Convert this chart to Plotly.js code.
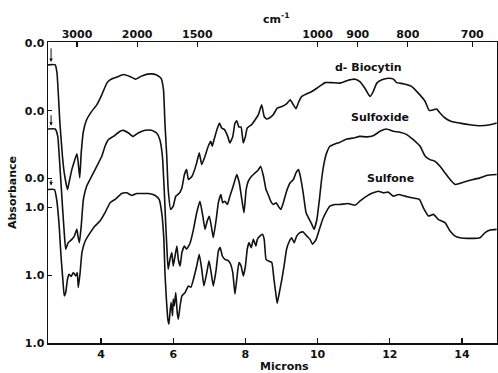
<!DOCTYPE html>
<html>
<head>
<meta charset="utf-8">
<script src="https://cdn.plot.ly/plotly-3.0.1.min.js"></script>
<style>html,body{margin:0;padding:0;background:#fff;}#chart{width:498px;height:373px;}</style>
</head>
<body>
<div id="chart"></div>
<script>
// Wavelength (microns) and absorbance for each spectrum
const biocytinX = [2.52,2.73,2.78,2.86,2.93,2.98,3.07,3.12,3.19,3.26,3.33,3.36,3.41,3.45,3.51,3.60,3.74,3.88,4.02,4.16,4.25,4.43,4.62,4.80,4.96,5.13,5.36,5.54,5.66,5.73,5.77,5.82,5.86,5.93,6.00,6.07,6.16,6.24,6.31,6.37,6.42,6.51,6.56,6.65,6.72,6.79,6.88,6.97,7.04,7.08,7.13,7.21,7.28,7.34,7.42,7.51,7.57,7.65,7.71,7.76,7.82,7.88,7.94,8.00,8.05,8.17,8.27,8.36,8.45,8.52,8.59,8.66,8.77,8.88,9.01,9.14,9.24,9.33,9.40,9.47,9.56,9.70,9.84,9.98,10.11,10.21,10.39,10.62,10.81,11.04,11.17,11.31,11.45,11.54,11.64,11.78,11.96,12.10,12.19,12.37,12.61,12.79,12.98,13.09,13.21,13.30,13.39,13.53,13.71,13.94,14.22,14.50,14.78,14.96];
const biocytinA = [0.133,0.133,0.184,0.487,0.689,0.790,0.891,0.841,0.770,0.719,0.673,0.713,0.820,0.668,0.538,0.467,0.416,0.376,0.315,0.244,0.224,0.208,0.192,0.204,0.220,0.200,0.188,0.194,0.214,0.285,0.487,0.689,0.891,1.012,0.992,0.932,0.915,0.881,0.800,0.770,0.830,0.814,0.790,0.729,0.668,0.739,0.689,0.628,0.598,0.628,0.588,0.527,0.487,0.517,0.527,0.568,0.608,0.568,0.487,0.473,0.511,0.511,0.608,0.568,0.517,0.497,0.467,0.436,0.376,0.447,0.462,0.456,0.436,0.396,0.386,0.370,0.345,0.376,0.400,0.362,0.325,0.309,0.295,0.275,0.255,0.241,0.241,0.244,0.229,0.220,0.235,0.275,0.325,0.295,0.244,0.224,0.214,0.220,0.241,0.248,0.265,0.305,0.356,0.410,0.406,0.402,0.426,0.456,0.477,0.487,0.497,0.503,0.497,0.487];

const sulfoxideX = [2.52,2.73,2.80,2.86,2.93,2.98,3.02,3.09,3.19,3.26,3.33,3.36,3.40,3.45,3.51,3.60,3.74,3.88,4.02,4.11,4.20,4.34,4.53,4.62,4.76,4.89,5.03,5.22,5.40,5.54,5.63,5.70,5.75,5.79,5.83,5.86,5.91,5.96,6.00,6.05,6.10,6.14,6.19,6.24,6.31,6.37,6.47,6.56,6.65,6.74,6.82,6.88,6.94,7.00,7.07,7.11,7.19,7.25,7.32,7.37,7.43,7.50,7.57,7.66,7.76,7.83,7.90,7.96,8.02,8.08,8.17,8.27,8.36,8.42,8.50,8.57,8.63,8.70,8.77,8.85,8.91,8.98,9.05,9.14,9.24,9.33,9.40,9.47,9.53,9.60,9.68,9.77,9.84,9.90,9.98,10.05,10.11,10.18,10.25,10.34,10.43,10.62,10.81,10.99,11.17,11.36,11.54,11.73,11.91,12.10,12.28,12.47,12.65,12.84,12.98,13.11,13.25,13.39,13.53,13.67,13.81,13.94,14.13,14.31,14.50,14.68,14.96];
const sulfoxideA = [0.111,0.111,0.156,0.338,0.580,0.741,0.842,0.802,0.782,0.762,0.721,0.762,0.802,0.701,0.539,0.459,0.398,0.338,0.277,0.216,0.176,0.156,0.125,0.119,0.135,0.156,0.135,0.119,0.119,0.135,0.176,0.277,0.479,0.681,0.862,0.964,0.903,0.862,0.944,0.883,0.822,0.903,0.944,0.862,0.822,0.842,0.802,0.721,0.620,0.550,0.641,0.721,0.671,0.641,0.721,0.772,0.661,0.559,0.509,0.559,0.550,0.570,0.519,0.459,0.388,0.438,0.539,0.620,0.479,0.428,0.398,0.378,0.358,0.338,0.398,0.479,0.509,0.550,0.570,0.559,0.580,0.600,0.559,0.489,0.438,0.418,0.378,0.358,0.408,0.499,0.620,0.661,0.691,0.721,0.661,0.539,0.418,0.317,0.256,0.216,0.206,0.191,0.172,0.166,0.156,0.159,0.152,0.125,0.111,0.125,0.131,0.145,0.176,0.216,0.277,0.297,0.307,0.338,0.378,0.418,0.448,0.442,0.428,0.418,0.408,0.394,0.388];

const sulfoneX = [2.52,2.71,2.77,2.84,2.89,2.94,2.98,3.02,3.07,3.11,3.17,3.23,3.30,3.34,3.37,3.42,3.47,3.56,3.70,3.83,3.97,4.11,4.25,4.39,4.57,4.71,4.85,4.99,5.13,5.31,5.50,5.61,5.68,5.74,5.77,5.81,5.85,5.88,5.91,5.94,5.98,6.00,6.03,6.07,6.11,6.14,6.19,6.24,6.33,6.42,6.49,6.56,6.65,6.72,6.79,6.85,6.93,6.99,7.05,7.11,7.19,7.25,7.30,7.36,7.43,7.53,7.59,7.65,7.71,7.76,7.82,7.88,7.94,8.00,8.05,8.10,8.16,8.22,8.29,8.33,8.40,8.47,8.52,8.57,8.63,8.73,8.79,8.85,8.88,8.94,9.01,9.07,9.14,9.22,9.28,9.35,9.42,9.51,9.60,9.70,9.79,9.86,9.96,10.05,10.14,10.25,10.34,10.48,10.62,10.84,11.04,11.17,11.36,11.54,11.68,11.82,11.96,12.10,12.24,12.42,12.61,12.82,12.93,13.07,13.21,13.34,13.53,13.67,13.81,13.94,14.17,14.50,14.64,14.78,14.96];
const sulfoneA = [0.067,0.067,0.127,0.289,0.471,0.612,0.713,0.693,0.612,0.582,0.596,0.572,0.592,0.572,0.662,0.572,0.450,0.380,0.329,0.289,0.259,0.208,0.147,0.127,0.091,0.087,0.103,0.091,0.091,0.091,0.103,0.127,0.208,0.370,0.572,0.733,0.855,0.885,0.814,0.753,0.835,0.733,0.774,0.693,0.814,0.855,0.774,0.713,0.693,0.653,0.661,0.612,0.532,0.461,0.552,0.653,0.572,0.501,0.572,0.653,0.552,0.441,0.420,0.471,0.491,0.501,0.521,0.572,0.703,0.612,0.511,0.532,0.592,0.532,0.430,0.390,0.420,0.370,0.410,0.370,0.350,0.339,0.370,0.491,0.501,0.511,0.612,0.713,0.758,0.693,0.612,0.532,0.430,0.380,0.360,0.390,0.350,0.329,0.325,0.350,0.370,0.400,0.370,0.309,0.248,0.198,0.168,0.158,0.158,0.152,0.162,0.138,0.107,0.087,0.077,0.087,0.083,0.107,0.097,0.107,0.117,0.127,0.178,0.228,0.218,0.248,0.268,0.319,0.350,0.360,0.364,0.360,0.329,0.313,0.309];

const seriesNames = ["d- Biocytin", "Sulfoxide", "Sulfone"];
const offsets = [0, 0.412, 0.824];           // vertical stacking of the spectra
const wavenumbers = [3000, 2000, 1500, 1000, 900, 800, 700];
const micronTicks = [4, 6, 8, 10, 12, 14];

const xs = [biocytinX, sulfoxideX, sulfoneX];
const as = [biocytinA, sulfoxideA, sulfoneA];
const xr = [2.53, 14.97];

const FONT = "DejaVu Sans, Liberation Sans, Arial, sans-serif";
const INK = '#111';
const traces = xs.map((x, i) => ({
  x: x,
  y: as[i].map(a => a + offsets[i]),
  xaxis: i === 2 ? 'x2' : 'x',
  yaxis: 'y',
  type: 'scatter',
  mode: 'lines',
  line: {color: INK, width: 1.6, shape: 'spline', smoothing: 0.4},
  name: seriesNames[i],
  showlegend: false,
  hoverinfo: 'skip'
}));

const yTickVals = [], yTickText = [];
offsets.forEach(o => { yTickVals.push(o); yTickText.push('0.0'); });
offsets.forEach(o => { yTickVals.push(o + 1); yTickText.push('1.0'); });

const labelFont = {family: FONT, size: 11, color: INK, weight: 'bold'};
const labelPos = [[11.40, 0.152], [11.73, 0.452], [12.01, 0.826]];
const annotations = seriesNames.map((n, i) => ({
  x: labelPos[i][0], y: labelPos[i][1], xref: 'x', yref: 'y',
  text: n, showarrow: false, font: labelFont
}));
// axis titles placed as annotations to match the reference positions
annotations.push({xref: 'paper', yref: 'paper', x: 0.527, y: -0.077, xanchor: 'center', yanchor: 'middle',
  text: 'Microns', showarrow: false, font: labelFont});
annotations.push({xref: 'paper', yref: 'paper', x: 0.508, y: 1.077, xanchor: 'center', yanchor: 'middle',
  text: 'cm<sup>-1</sup>', showarrow: false, font: labelFont});
// start-point arrows
const arrowTips = [0.115, 0.503, 0.867];
const arrowLen = [-15, -12, -7];
arrowTips.forEach((t, i) => annotations.push({
  x: 2.615, y: t, xref: 'x', yref: 'y', ax: 0, ay: arrowLen[i], text: '',
  showarrow: true, arrowhead: 2, arrowsize: 0.7, arrowwidth: 1, arrowcolor: INK
}));

const tickFont = {family: FONT, size: 11, color: INK, weight: 'bold'};

const layout = {
  width: 498, height: 373,
  margin: {l: 48, r: 1, t: 42, b: 30, pad: 0},
  paper_bgcolor: '#fff', plot_bgcolor: '#fff',
  font: {family: FONT, size: 11, color: INK},
  showlegend: false,
  xaxis: {
    range: xr, showgrid: false, zeroline: false,
    showline: true, linecolor: INK, linewidth: 1.5,
    tickvals: micronTicks, ticktext: micronTicks.map(String),
    ticks: 'inside', ticklen: 5, tickwidth: 1.2, tickcolor: INK,
    tickfont: tickFont
  },
  xaxis2: {
    range: xr, overlaying: 'x', side: 'top', anchor: 'y',
    showgrid: false, zeroline: false,
    showline: true, linecolor: INK, linewidth: 1.5,
    tickvals: wavenumbers.map(w => 10000 / w), ticktext: wavenumbers.map(String),
    ticks: 'inside', ticklen: 5, tickwidth: 1.2, tickcolor: INK,
    tickfont: tickFont, ticklabelstandoff: -2
  },
  yaxis: {
    range: [1.824, -0.006], showgrid: false, zeroline: false,
    showline: true, mirror: true, linecolor: INK, linewidth: 1.5,
    tickvals: yTickVals, ticktext: yTickText,
    ticks: 'inside', ticklen: 4, tickwidth: 1.2, tickcolor: INK,
    tickfont: tickFont,
    title: {text: 'Absorbance', font: labelFont, standoff: 6}
  },
  annotations: annotations
};

Plotly.newPlot('chart', traces, layout, {staticPlot: true, displayModeBar: false});
</script>
</body>
</html>
